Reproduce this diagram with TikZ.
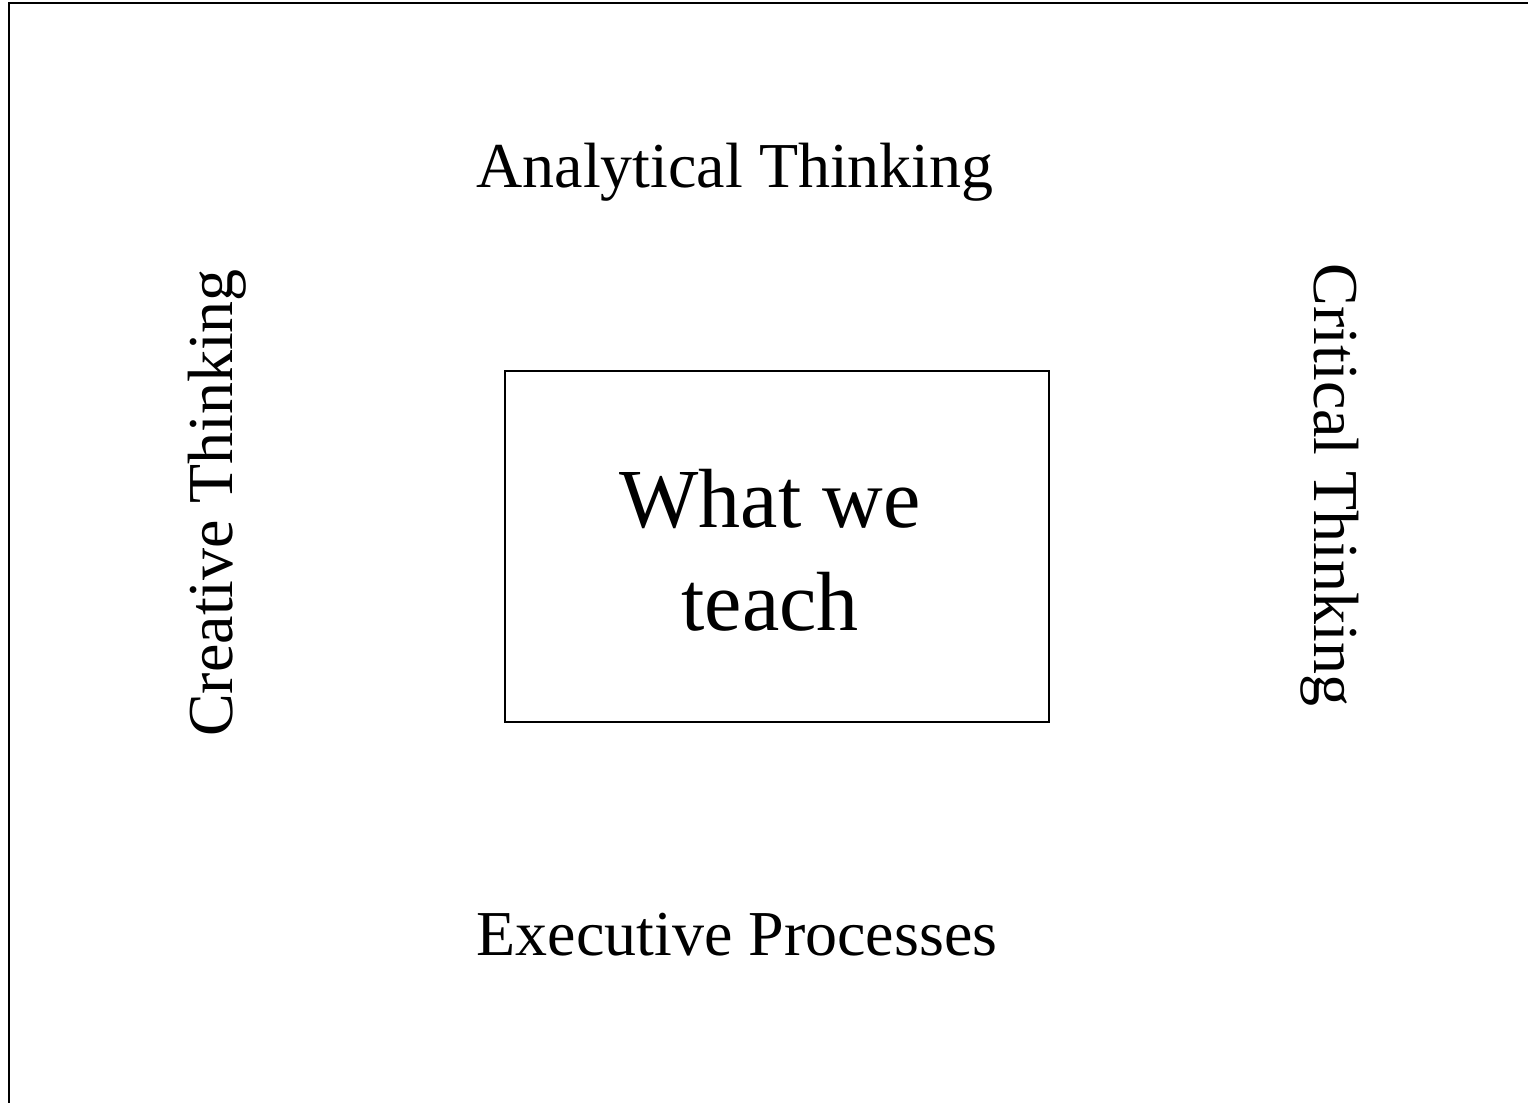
\documentclass[tikz,border=0pt]{standalone}
\usepackage{fontspec}
\setmainfont{Liberation Serif}
\usetikzlibrary{positioning}

\begin{document}
\begin{tikzpicture}[x=0.5pt,y=-0.5pt]

% page area, one unit per pixel
\useasboundingbox (0,0) rectangle (1528,1103);
\draw[line width=1pt] (9,1110) -- (9,3) -- (1540,3);

% set style here
\tikzstyle{every node}=[inner sep=0pt,outer sep=0pt];
\tikzstyle{side}=[font=\fontsize{32}{38}\selectfont,anchor=base];
%
\node (core) at (777,546.5) [draw,line width=1pt,minimum width=272pt,minimum height=175.5pt] {};
\node (coretext) at (770,630) [anchor=base,align=center,font=\fontsize{42}{51.5}\selectfont] {What we\\teach};
\node (analytical) at (735,187) [side] {Analytical Thinking};
\node (executive) at (737,955) [side] {Executive Processes};
\node (creative) at (232,503) [side,rotate=90] {Creative Thinking};
\node (critical) at (1314,485) [side,rotate=-90] {Critical Thinking};

\end{tikzpicture}
\end{document}
